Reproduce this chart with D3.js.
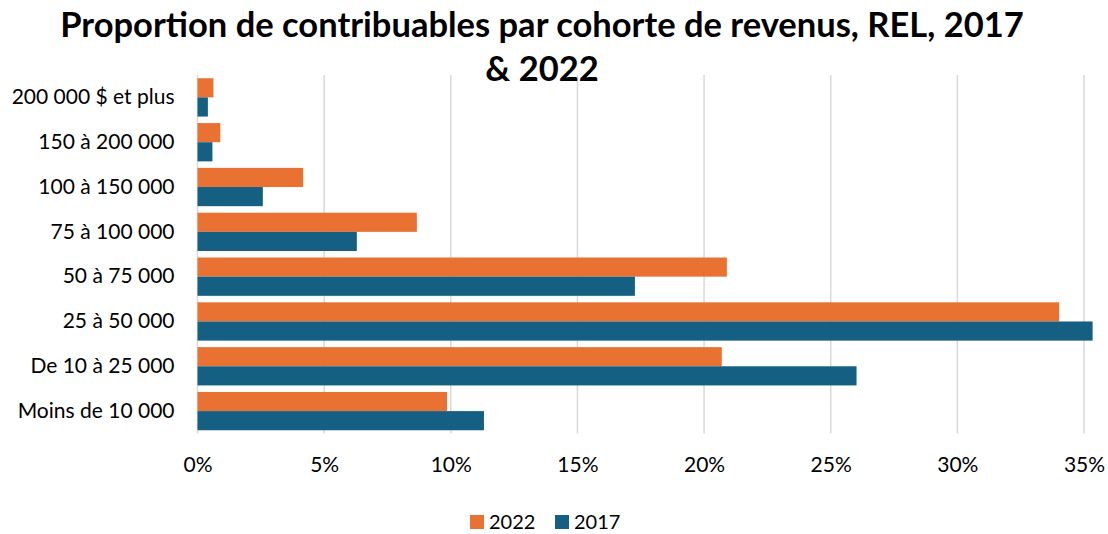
<!DOCTYPE html>
<html>
<head>
<meta charset="utf-8">
<script src="https://cdn.jsdelivr.net/npm/d3@7"></script>
<style>
  body { margin: 0; background: #fff; }
  text { font-family: Lato, "Open Sans", sans-serif; fill: #000; }
</style>
</head>
<body>
<svg id="chart" width="1108" height="534"></svg>
<script>
// données
const categories = ["200 000 $ et plus", "150 à 200 000", "100 à 150 000", "75 à 100 000",
  "50 à 75 000", "25 à 50 000", "De 10 à 25 000", "Moins de 10 000"]
const series = ["2022", "2017"]
const values2022 = [0.63, 0.9, 4.17, 8.66, 20.9, 34.02, 20.7, 9.85]
const values2017 = [0.41, 0.59, 2.58, 6.29, 17.27, 35.34, 26.02, 11.31]
const tickValues = [0, 5, 10, 15, 20, 25, 30, 35]
const colors = { "2022": "#E97132", "2017": "#156082" }

const svg = d3.select("#chart")
const plotLeft = 197.5, plotRight = 1084, plotTop = 75, plotBottom = 433.5

let x = d3.scaleLinear().domain([0, 35]).range([plotLeft, plotRight])
let y = d3.scaleBand().domain(categories).range([plotTop, plotBottom]).paddingInner(0.145).paddingOuter(0.0725)
let ySub = d3.scaleBand().domain(series).range([0, y.bandwidth()])

// grille
svg.append("g")
  .selectAll("line")
  .data(tickValues)
  .enter()
  .append("line")
  .attr("x1", d => x(d)).attr("x2", d => x(d))
  .attr("y1", plotTop).attr("y2", plotBottom)
  .style("stroke", "#d9d9d9")
  .style("stroke-width", 1.5)

// barres
const rows = categories.map((c, i) => ({ cat: c, "2022": values2022[i], "2017": values2017[i] }))
svg.append("g")
  .selectAll("g")
  .data(rows)
  .enter()
  .append("g")
  .attr("transform", d => "translate(0," + y(d.cat) + ")")
  .selectAll("rect")
  .data(d => series.map(s => ({ s: s, v: d[s] })))
  .enter()
  .append("rect")
  .attr("x", x(0))
  .attr("y", d => ySub(d.s))
  .attr("width", d => x(d.v) - x(0))
  .attr("height", ySub.bandwidth())
  .style("fill", d => colors[d.s])

// axe x
const xAxis = d3.axisBottom(x).tickValues(tickValues).tickFormat(d => d + "%").tickSize(0)
const gx = svg.append("g").attr("transform", "translate(0," + plotBottom + ")").call(xAxis)
gx.select(".domain").remove()
gx.selectAll("text").attr("dy", 0).attr("y", 38.5).style("font-size", "21px")

// axe y
const yAxis = d3.axisLeft(y).tickSize(0)
const gy = svg.append("g").attr("transform", "translate(" + (plotLeft - 23) + ",0)").call(yAxis)
gy.select(".domain").remove()
gy.selectAll("text").attr("x", 0).style("font-size", "21px")

// titre
const title = svg.append("text")
  .attr("text-anchor", "middle")
  .style("font-size", "34.5px")
  .style("font-weight", "bold")
title.append("tspan").attr("x", 542).attr("y", 37).text("Proportion de contribuables par cohorte de revenus, REL, 2017")
title.append("tspan").attr("x", 542).attr("y", 81).text("& 2022")

// légende
const legend = svg.append("g")
const legendX = [470, 555]
series.forEach((s, i) => {
  legend.append("rect")
    .attr("x", legendX[i]).attr("y", 515)
    .attr("width", 14).attr("height", 14)
    .style("fill", colors[s])
  legend.append("text")
    .attr("x", legendX[i] + 19).attr("y", 529)
    .style("font-size", "20px")
    .text(s)
})
</script>
</body>
</html>
